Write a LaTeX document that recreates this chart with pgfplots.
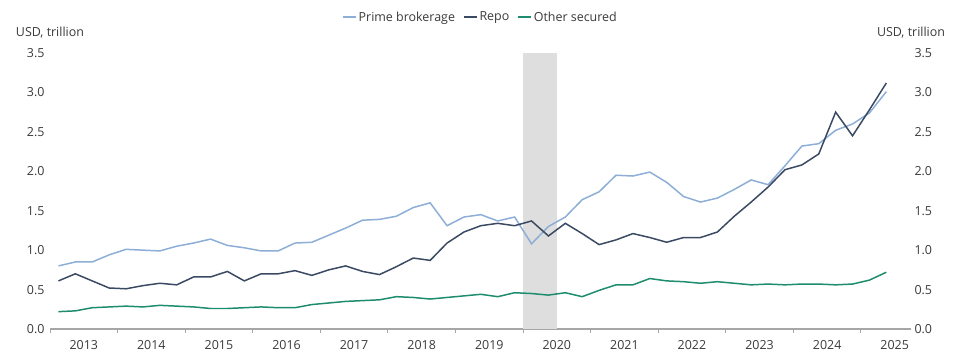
\documentclass[border=0pt]{standalone}
\usepackage{fontspec}
\setmainfont{Open Sans}
\usepackage{pgfplots}
\usepackage{pgfplotstable}
\pgfplotsset{compat=1.18}
\definecolor{pbcol}{HTML}{8DAED6}
\definecolor{repocol}{HTML}{3B4A63}
\definecolor{othcol}{HTML}{1E8C6E}
\definecolor{txtcol}{HTML}{3A3A3A}
\definecolor{axcol}{HTML}{A6A6A6}
\definecolor{shadecol}{HTML}{DEDEDE}
\pgfplotstableread{
x pb repo oth
2013.125 0.80 0.61 0.22
2013.375 0.85 0.70 0.23
2013.625 0.85 0.61 0.27
2013.875 0.94 0.52 0.28
2014.125 1.01 0.51 0.29
2014.375 1.00 0.55 0.28
2014.625 0.99 0.58 0.30
2014.875 1.05 0.56 0.29
2015.125 1.09 0.66 0.28
2015.375 1.14 0.66 0.26
2015.625 1.06 0.73 0.26
2015.875 1.03 0.61 0.27
2016.125 0.99 0.70 0.28
2016.375 0.99 0.70 0.27
2016.625 1.09 0.74 0.27
2016.875 1.10 0.68 0.31
2017.125 1.19 0.75 0.33
2017.375 1.28 0.80 0.35
2017.625 1.38 0.73 0.36
2017.875 1.39 0.69 0.37
2018.125 1.43 0.79 0.41
2018.375 1.54 0.90 0.40
2018.625 1.60 0.87 0.38
2018.875 1.31 1.09 0.40
2019.125 1.42 1.23 0.42
2019.375 1.45 1.31 0.44
2019.625 1.37 1.34 0.41
2019.875 1.42 1.31 0.46
2020.125 1.08 1.37 0.45
2020.375 1.30 1.18 0.43
2020.625 1.42 1.34 0.46
2020.875 1.64 1.21 0.41
2021.125 1.74 1.07 0.49
2021.375 1.95 1.13 0.56
2021.625 1.94 1.21 0.56
2021.875 1.99 1.16 0.64
2022.125 1.86 1.10 0.61
2022.375 1.68 1.16 0.60
2022.625 1.61 1.16 0.58
2022.875 1.66 1.23 0.60
2023.125 1.77 1.43 0.58
2023.375 1.89 1.61 0.56
2023.625 1.83 1.80 0.57
2023.875 2.07 2.02 0.56
2024.125 2.32 2.08 0.57
2024.375 2.35 2.22 0.57
2024.625 2.52 2.75 0.56
2024.875 2.60 2.45 0.57
2025.125 2.74 2.78 0.62
2025.375 3.01 3.12 0.72
}\datatable
\begin{document}
\begin{tikzpicture}[x=1bp,y=1bp]
\useasboundingbox (0,0) rectangle (959,355);
\pgfplotsset{
  common/.style={
    at={(50bp,26bp)}, anchor=origin,
    scale only axis, width=861bp, height=276bp,
    xmin=2013, xmax=2025.74, ymin=0, ymax=3.5,
    ytick={0,0.5,...,3.5},
    /pgf/number format/fixed,
    /pgf/number format/fixed zerofill,
    /pgf/number format/precision=1,
    /pgf/number format/assume math mode=true,
    tick label style={font=\fontsize{12.5}{14}\selectfont, text=txtcol},
    major tick length=0pt,
  }
}
\begin{axis}[common,
  axis x line*=bottom, axis y line=none,
  x axis line style={draw=axcol, line width=1.2pt, -},
  xtick={2013.5,2014.5,...,2025.5},
  xticklabels={2013,2014,2015,2016,2017,2018,2019,2020,2021,2022,2023,2024,2025},
  minor xtick={2013,2014,...,2025},
  minor tick length=4bp,
  tick align=outside,
  minor tick style={draw=axcol, line width=1pt},
  xticklabel style={yshift=-8bp},
  legend style={at={(0.5,1.13)}, anchor=center, draw=none, fill=none,
    legend columns=-1, font=\fontsize{12.5}{14}\selectfont, text=txtcol,
    /tikz/every even column/.append style={column sep=6bp}},
  legend image code/.code={\draw[#1] (0bp,0bp) -- (13bp,0bp);},
  clip=false,
]
\addplot[fill=shadecol, draw=none, forget plot] coordinates {(2020,0) (2020,3.5) (2020.5,3.5) (2020.5,0)} -- cycle;
\addplot[pbcol, line width=1.5pt] table[x=x,y=pb] {\datatable};
\addlegendentry{Prime brokerage}
\addplot[repocol, line width=1.5pt] table[x=x,y=repo] {\datatable};
\addlegendentry{Repo}
\addplot[othcol, line width=1.5pt] table[x=x,y=oth] {\datatable};
\addlegendentry{Other secured}
\node[font=\fontsize{12.5}{14}\selectfont, text=txtcol] at ([yshift=20bp]rel axis cs:0,1) {USD, trillion};
\node[font=\fontsize{12.5}{14}\selectfont, text=txtcol] at ([yshift=20bp]rel axis cs:1,1) {USD, trillion};
\end{axis}
\begin{axis}[common,
  axis x line=none, axis y line*=left,
  y axis line style={draw=none},
  yticklabel style={xshift=-2bp},
]
\end{axis}
\begin{axis}[common,
  axis x line=none, axis y line*=right,
  y axis line style={draw=none},
]
\end{axis}
\end{tikzpicture}
\end{document}
